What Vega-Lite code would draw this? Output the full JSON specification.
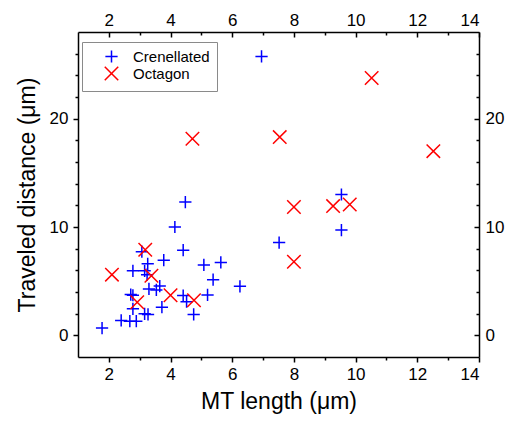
{
  "$schema": "https://vega.github.io/schema/vega-lite/v6.json",
  "width": 401,
  "height": 325,
  "autosize": {"type": "none"},
  "padding": {"left": 78, "top": 32, "right": 34, "bottom": 67},
  "background": "white",
  "config": {
    "view": {"stroke": null},
    "axis": {
      "grid": false,
      "domainColor": "black",
      "domainWidth": 1.5,
      "tickColor": "black",
      "tickWidth": 1.5,
      "labelColor": "black",
      "labelFont": "Liberation Sans",
      "labelFontSize": 17,
      "titleFont": "Liberation Sans",
      "titleFontSize": 23,
      "titleFontWeight": "normal",
      "titleColor": "black"
    },
    "legend": {
      "orient": "none",
      "legendX": 4,
      "legendY": 10,
      "strokeColor": "#8a8a8a",
      "strokeWidth": 1,
      "padding": 7,
      "symbolOffset": 15,
      "labelOffset": 14,
      "labelFont": "Liberation Sans",
      "labelFontSize": 15,
      "labelColor": "black",
      "symbolStrokeWidth": 1.5,
      "symbolSize": 150,
      "rowPadding": -3
    }
  },
  "data": {
    "values": [
      {"length": 1.78, "distance": 0.67, "shape": "Crenellated"},
      {"length": 2.4, "distance": 1.38, "shape": "Crenellated"},
      {"length": 2.68, "distance": 1.31, "shape": "Crenellated"},
      {"length": 2.89, "distance": 1.31, "shape": "Crenellated"},
      {"length": 2.78, "distance": 2.45, "shape": "Crenellated"},
      {"length": 2.71, "distance": 3.76, "shape": "Crenellated"},
      {"length": 2.78, "distance": 3.7, "shape": "Crenellated"},
      {"length": 2.78, "distance": 5.96, "shape": "Crenellated"},
      {"length": 3.16, "distance": 5.96, "shape": "Crenellated"},
      {"length": 3.24, "distance": 5.6, "shape": "Crenellated"},
      {"length": 3.07, "distance": 7.72, "shape": "Crenellated"},
      {"length": 3.26, "distance": 6.6, "shape": "Crenellated"},
      {"length": 3.16, "distance": 1.99, "shape": "Crenellated"},
      {"length": 3.27, "distance": 1.93, "shape": "Crenellated"},
      {"length": 3.3, "distance": 4.28, "shape": "Crenellated"},
      {"length": 3.54, "distance": 4.19, "shape": "Crenellated"},
      {"length": 3.65, "distance": 4.55, "shape": "Crenellated"},
      {"length": 3.72, "distance": 2.6, "shape": "Crenellated"},
      {"length": 3.78, "distance": 6.94, "shape": "Crenellated"},
      {"length": 4.14, "distance": 10.0, "shape": "Crenellated"},
      {"length": 4.41, "distance": 7.86, "shape": "Crenellated"},
      {"length": 4.48, "distance": 12.3, "shape": "Crenellated"},
      {"length": 4.41, "distance": 3.67, "shape": "Crenellated"},
      {"length": 4.52, "distance": 3.1, "shape": "Crenellated"},
      {"length": 4.75, "distance": 1.93, "shape": "Crenellated"},
      {"length": 5.08, "distance": 6.5, "shape": "Crenellated"},
      {"length": 5.2, "distance": 3.73, "shape": "Crenellated"},
      {"length": 5.38, "distance": 5.14, "shape": "Crenellated"},
      {"length": 5.63, "distance": 6.73, "shape": "Crenellated"},
      {"length": 6.25, "distance": 4.52, "shape": "Crenellated"},
      {"length": 6.95, "distance": 25.75, "shape": "Crenellated"},
      {"length": 7.52, "distance": 8.56, "shape": "Crenellated"},
      {"length": 9.54, "distance": 13.0, "shape": "Crenellated"},
      {"length": 9.54, "distance": 9.72, "shape": "Crenellated"},
      {"length": 2.1, "distance": 5.6, "shape": "Octagon"},
      {"length": 2.92, "distance": 3.06, "shape": "Octagon"},
      {"length": 3.18, "distance": 7.9, "shape": "Octagon"},
      {"length": 3.38, "distance": 5.5, "shape": "Octagon"},
      {"length": 4.0, "distance": 3.7, "shape": "Octagon"},
      {"length": 4.76, "distance": 3.24, "shape": "Octagon"},
      {"length": 4.71, "distance": 18.15, "shape": "Octagon"},
      {"length": 7.54, "distance": 18.3, "shape": "Octagon"},
      {"length": 8.0, "distance": 11.85, "shape": "Octagon"},
      {"length": 8.0, "distance": 6.79, "shape": "Octagon"},
      {"length": 9.27, "distance": 11.93, "shape": "Octagon"},
      {"length": 9.81, "distance": 12.08, "shape": "Octagon"},
      {"length": 10.52, "distance": 23.76, "shape": "Octagon"},
      {"length": 12.52, "distance": 17.0, "shape": "Octagon"}
    ]
  },
  "layer": [
    {
      "mark": {"type": "point", "filled": false, "strokeWidth": 1.5, "size": 150, "opacity": 1},
      "encoding": {
        "x": {
          "field": "length", "type": "quantitative",
          "scale": {"domain": [1, 14], "nice": false, "zero": false},
          "axis": {
            "orient": "bottom",
            "values": [2, 3, 4, 5, 6, 7, 8, 9, 10, 11, 12, 13, 14],
            "tickSize": {"condition": {"test": "datum.value % 2 === 0", "value": 5}, "value": 3},
            "labelExpr": "datum.value % 2 === 0 ? datum.label : ''",
            "labelPadding": 4,
            "title": "MT length (μm)",
            "titlePadding": 8
          }
        },
        "y": {
          "field": "distance", "type": "quantitative",
          "scale": {"domain": [-2, 28], "nice": false, "zero": false},
          "axis": {
            "orient": "left",
            "values": [0, 2, 4, 6, 8, 10, 12, 14, 16, 18, 20, 22, 24, 26],
            "tickSize": {"condition": {"test": "datum.value % 10 === 0", "value": 5}, "value": 3},
            "labelExpr": "datum.value % 10 === 0 ? datum.label : ''",
            "labelPadding": 5,
            "title": "Traveled distance (μm)",
            "titlePadding": 10
          }
        },
        "color": {
          "field": "shape", "type": "nominal",
          "scale": {"domain": ["Crenellated", "Octagon"], "range": ["#0000ff", "#ff0000"]},
          "legend": {"title": null}
        },
        "shape": {
          "field": "shape", "type": "nominal",
          "scale": {"domain": ["Crenellated", "Octagon"], "range": ["M-1,0L1,0M0,-1L0,1", "M-1.1,-1.1L1.1,1.1M-1.1,1.1L1.1,-1.1"]},
          "legend": {"title": null}
        }
      }
    },
    {
      "mark": {"type": "point", "opacity": 0},
      "encoding": {
        "x": {
          "field": "length", "type": "quantitative",
          "scale": {"domain": [1, 14], "nice": false, "zero": false},
          "axis": {
            "orient": "top",
            "values": [2, 3, 4, 5, 6, 7, 8, 9, 10, 11, 12, 13, 14],
            "tickSize": {"condition": {"test": "datum.value % 2 === 0", "value": -5}, "value": -3},
            "labelExpr": "datum.value % 2 === 0 ? datum.label : ''",
            "labelPadding": 8,
            "title": null
          }
        },
        "y": {
          "field": "distance", "type": "quantitative",
          "scale": {"domain": [-2, 28], "nice": false, "zero": false},
          "axis": {
            "orient": "right",
            "values": [0, 2, 4, 6, 8, 10, 12, 14, 16, 18, 20, 22, 24, 26],
            "tickSize": {"condition": {"test": "datum.value % 10 === 0", "value": -5}, "value": -3},
            "labelExpr": "datum.value % 10 === 0 ? datum.label : ''",
            "labelPadding": 11,
            "title": null
          }
        }
      }
    }
  ],
  "resolve": {"axis": {"x": "independent", "y": "independent"}}
}
